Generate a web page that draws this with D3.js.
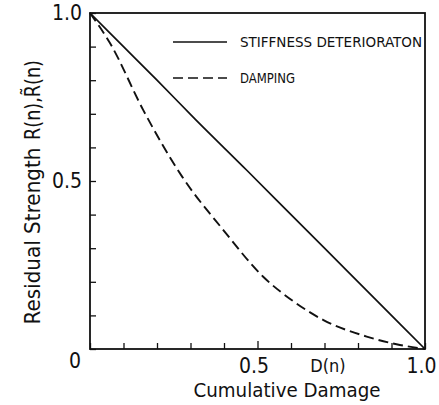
<!DOCTYPE html>
<html>
<head>
	<title>Residual Strength vs Cumulative Damage</title>
	<script src="https://d3js.org/d3.v7.min.js" charset="utf-8"></script>
	<style>
		body { margin: 0; background: #fff; }
		text { font-family: "Liberation Sans Narrow", "DejaVu Sans Condensed", "Liberation Sans", sans-serif; fill: #111; }
	</style>
</head>
<body>
	<svg width="439" height="405"></svg>
	<script>
		// stiffness deterioration (solid) - almost straight
		var stiffX = [0, 0.1, 0.2, 0.313, 0.468, 0.6, 0.697, 0.85, 1.0];
		var stiffY = [1, 0.9, 0.8, 0.685, 0.532, 0.40, 0.303, 0.15, 0];
		// damping (dashed)
		var dampX = [0, 0.06, 0.159, 0.275, 0.398, 0.517, 0.61, 0.697, 0.826, 0.925, 1.0];
		var dampY = [1, 0.91, 0.711, 0.513, 0.354, 0.215, 0.14, 0.086, 0.037, 0.012, 0];
		var xTickLabels = ['0.5', '1.0'];
		var yTickLabels = ['0.5', '1.0'];
		var legendNames = ['STIFFNESS DETERIORATON', 'DAMPING'];

		const marginLeft = 90, marginTop = 13;
		const width = 335, height = 336;

		var svg = d3.select('svg');
		const chart = svg.append('g')
			.attr('transform', `translate(${marginLeft}, ${marginTop})`);

		const xScale = d3.scaleLinear().domain([0, 1]).range([0, width]);
		const yScale = d3.scaleLinear().domain([0, 1]).range([height, 0]);

		var ticks = d3.range(0, 11).map(function(i) { return i / 10; });

		// x axis, ticks pointing inward
		var xAxis = chart.append('g')
			.attr('transform', `translate(0, ${height})`)
			.call(d3.axisBottom(xScale)
				.tickValues(ticks)
				.tickSizeInner(-6).tickSizeOuter(0)
				.tickPadding(9)
				.tickFormat(function(d) {
					var s = d3.format('.1f')(d);
					return xTickLabels.indexOf(s) >= 0 ? s : '';
				}));
		xAxis.selectAll('line')
			.attr('y2', function(d) { return Math.abs(d - 0.5) < 1e-6 ? -8 : -6; });

		var yAxis = chart.append('g')
			.call(d3.axisLeft(yScale)
				.tickValues(ticks)
				.tickSizeInner(-6).tickSizeOuter(0)
				.tickPadding(8)
				.tickFormat(function(d) {
					var s = d3.format('.1f')(d);
					return yTickLabels.indexOf(s) >= 0 ? s : '';
				}));

		chart.selectAll('.domain').remove();
		chart.selectAll('.tick line').attr('stroke', '#111').attr('stroke-width', 1.3);
		chart.selectAll('.tick text')
			.style('font-family', '"Liberation Sans Narrow", "DejaVu Sans Condensed", sans-serif')
			.style('font-size', '21px')
			.attr('fill', '#111');
		xAxis.selectAll('.tick text').attr('dx', '-4');

		// the shared zero label
		chart.append('text')
			.attr('x', xScale(0) - 15)
			.attr('y', yScale(0) + 19)
			.attr('text-anchor', 'middle')
			.style('font-size', '21px')
			.text('0');

		// frame
		chart.append('rect')
			.attr('x', 0).attr('y', 0)
			.attr('width', width).attr('height', height)
			.attr('fill', 'none')
			.attr('stroke', '#111')
			.attr('stroke-width', 1.8);

		var line = d3.line()
			.x(function(d) { return xScale(d[0]); })
			.y(function(d) { return yScale(d[1]); })
			.curve(d3.curveMonotoneX);

		chart.append('path')
			.datum(d3.zip(stiffX, stiffY))
			.attr('d', line)
			.attr('fill', 'none')
			.attr('stroke', '#111')
			.attr('stroke-width', 1.7);

		chart.append('path')
			.datum(d3.zip(dampX, dampY))
			.attr('d', line)
			.attr('fill', 'none')
			.attr('stroke', '#111')
			.attr('stroke-width', 1.9)
			.attr('stroke-dasharray', '10,5');

		// legend
		var legend = svg.append('g');
		var legY = [42, 78];
		legendNames.forEach(function(name, i) {
			legend.append('line')
				.attr('x1', 173).attr('x2', 227)
				.attr('y1', legY[i]).attr('y2', legY[i])
				.attr('stroke', '#111')
				.attr('stroke-width', 1.7)
				.attr('stroke-dasharray', i === 1 ? '10,5' : null);
			legend.append('text')
				.attr('x', 240).attr('y', legY[i] + 5)
				.style('font-size', '14px')
				.attr('textLength', i === 0 ? 182 : 55)
				.attr('lengthAdjust', 'spacingAndGlyphs')
				.text(name);
		});

		// axis titles
		svg.append('text')
			.attr('x', 328).attr('y', 372)
			.attr('text-anchor', 'middle')
			.style('font-size', '18px')
			.text('D(n)');
		svg.append('text')
			.attr('x', 287).attr('y', 397)
			.attr('text-anchor', 'middle')
			.style('font-size', '20px')
			.attr('textLength', 187)
			.attr('lengthAdjust', 'spacingAndGlyphs')
			.text('Cumulative Damage');

		svg.append('text')
			.attr('transform', 'translate(40, 236) rotate(-90)')
			.attr('text-anchor', 'middle')
			.style('font-size', '21px')
			.attr('textLength', 177)
			.attr('lengthAdjust', 'spacingAndGlyphs')
			.text('Residual Strength');
		svg.append('text')
			.attr('transform', 'translate(40, 100) rotate(-90)')
			.attr('text-anchor', 'middle')
			.style('font-size', '21px')
			.attr('textLength', 80)
			.attr('lengthAdjust', 'spacingAndGlyphs')
			.text('R(n),R\u0303(n)');
	</script>
</body>
</html>
